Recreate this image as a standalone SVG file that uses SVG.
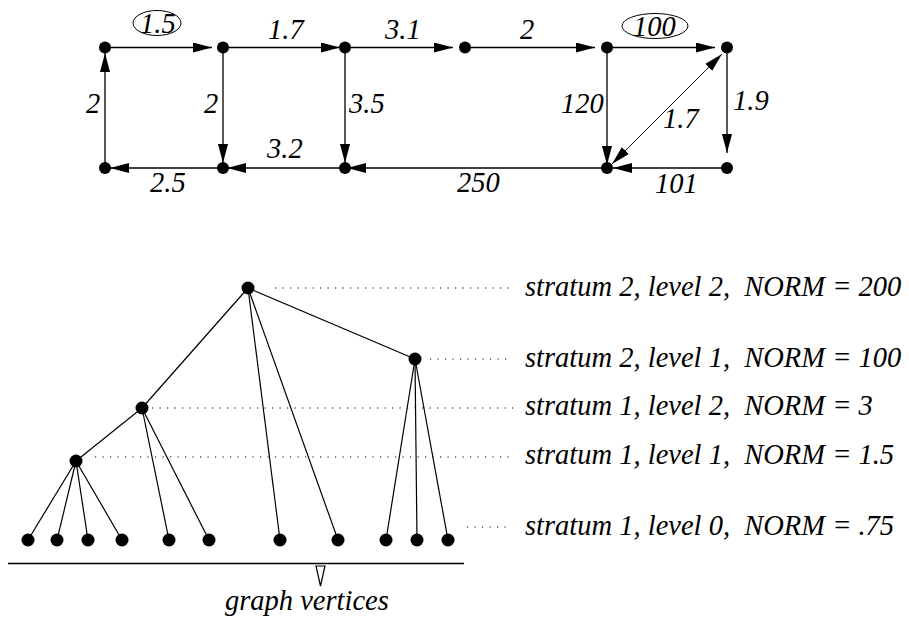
<svg xmlns="http://www.w3.org/2000/svg" width="909" height="621" viewBox="0 0 909 621">
<defs>
<marker id="ah" markerUnits="userSpaceOnUse" markerWidth="20" markerHeight="11" refX="19" refY="5" orient="auto">
<path d="M0,0 L19,5 L0,10 Z" fill="#000"/>
</marker>
<marker id="ahs" markerUnits="userSpaceOnUse" markerWidth="20" markerHeight="11" refX="19" refY="5" orient="auto-start-reverse">
<path d="M0,0 L19,5 L0,10 Z" fill="#000"/>
</marker>
</defs>
<style>
.e{stroke:#000;stroke-width:1.3;fill:none}
.a{marker-end:url(#ah)}
.t{stroke:#000;stroke-width:1.2;fill:none}
.d{stroke:#000;stroke-width:1.2;stroke-dasharray:1.2,6.3;fill:none}
.n{fill:#000}
.lb{font-family:"Liberation Serif","Times New Roman",serif;font-style:italic;font-size:28.5px;fill:#000;white-space:pre}
.ov{fill:none;stroke:#000;stroke-width:1}
</style>
<rect width="909" height="621" fill="#fff"/>

<g id="connectors">
<line class="e a" x1="105" y1="47.5" x2="212" y2="47.5"/>
<line class="e a" x1="223" y1="47.5" x2="340" y2="47.5"/>
<line class="e a" x1="345" y1="47.5" x2="453" y2="47.5"/>
<line class="e a" x1="465" y1="47.5" x2="595" y2="47.5"/>
<line class="e a" x1="607" y1="47.5" x2="715" y2="47.5"/>
<line class="e a" x1="727" y1="47.5" x2="727" y2="153"/>
<line class="e a" x1="727" y1="168" x2="613" y2="168"/>
<line class="e a" x1="607" y1="47.5" x2="607" y2="165"/>
<line stroke="#000" stroke-width="0.9" marker-start="url(#ahs)" marker-end="url(#ah)" x1="612" y1="164" x2="722" y2="54"/>
<line class="e a" x1="607" y1="168" x2="347" y2="168"/>
<line class="e a" x1="345" y1="47.5" x2="345" y2="163"/>
<line class="e a" x1="345" y1="168" x2="227" y2="168"/>
<line class="e a" x1="223" y1="47.5" x2="223" y2="163"/>
<line class="e a" x1="223" y1="168" x2="110" y2="168"/>
<line class="e a" x1="105" y1="168" x2="105" y2="53"/>

<g id="tree-edges">
<line class="t" x1="248" y1="288" x2="415" y2="359"/>
<line class="t" x1="248" y1="288" x2="142" y2="408"/>
<line class="t" x1="248" y1="288" x2="280" y2="540"/>
<line class="t" x1="248" y1="288" x2="338" y2="540"/>
<line class="t" x1="415" y1="359" x2="386" y2="540"/>
<line class="t" x1="415" y1="359" x2="417" y2="540"/>
<line class="t" x1="415" y1="359" x2="448" y2="540"/>
<line class="t" x1="142" y1="408" x2="76" y2="461"/>
<line class="t" x1="142" y1="408" x2="169" y2="540"/>
<line class="t" x1="142" y1="408" x2="209" y2="540"/>
<line class="t" x1="76" y1="461" x2="28" y2="540"/>
<line class="t" x1="76" y1="461" x2="57" y2="540"/>
<line class="t" x1="76" y1="461" x2="88" y2="540"/>
<line class="t" x1="76" y1="461" x2="122" y2="540"/>
</g>
<g id="level-guides">
<line class="d" x1="275" y1="288" x2="510" y2="288"/>
<line class="d" x1="430" y1="359" x2="510" y2="359"/>
<line class="d" x1="152" y1="408" x2="514" y2="408"/>
<line class="d" x1="95" y1="457" x2="511" y2="457"/>
<line class="d" x1="467" y1="527" x2="510" y2="527"/>
</g>
</g>

<g id="edge-labels">
<ellipse class="ov" cx="157" cy="23" rx="24" ry="12.5"/>
<text class="lb" x="140" y="33">1.5</text>
<text class="lb" x="268" y="39">1.7</text>
<text class="lb" x="385" y="39">3.1</text>
<text class="lb" x="520" y="39">2</text>
<ellipse class="ov" cx="655" cy="26" rx="33" ry="12.5"/>
<text class="lb" x="633" y="36">100</text>
<text class="lb" x="86" y="113">2</text>
<text class="lb" x="204" y="113">2</text>
<text class="lb" x="349" y="113">3.5</text>
<text class="lb" x="561" y="113">120</text>
<text class="lb" x="733" y="110">1.9</text>
<text class="lb" x="663" y="128">1.7</text>
<text class="lb" x="267" y="158">3.2</text>
<text class="lb" x="150" y="192">2.5</text>
<text class="lb" x="457" y="192">250</text>
<text class="lb" x="655" y="193">101</text>
</g>

<g id="g-n1"><circle class="n" cx="105" cy="47.5" r="6"/></g>
<g id="g-n2"><circle class="n" cx="223" cy="47.5" r="6"/></g>
<g id="g-n3"><circle class="n" cx="345" cy="47.5" r="6"/></g>
<g id="g-n4"><circle class="n" cx="465" cy="47.5" r="6"/></g>
<g id="g-n5"><circle class="n" cx="607" cy="47.5" r="6"/></g>
<g id="g-n6"><circle class="n" cx="727" cy="47.5" r="6"/></g>
<g id="g-n7"><circle class="n" cx="105" cy="168" r="6"/></g>
<g id="g-n8"><circle class="n" cx="223" cy="168" r="6"/></g>
<g id="g-n9"><circle class="n" cx="345" cy="168" r="6"/></g>
<g id="g-n10"><circle class="n" cx="607" cy="168" r="6"/></g>
<g id="g-n11"><circle class="n" cx="727" cy="168" r="6"/></g>

<g id="t-root"><circle class="n" cx="248" cy="288" r="6.5"/></g>
<g id="t-s2l1"><circle class="n" cx="415" cy="359" r="6.5"/></g>
<g id="t-s1l2"><circle class="n" cx="142" cy="408" r="6.5"/></g>
<g id="t-s1l1"><circle class="n" cx="76" cy="461" r="6.5"/></g>
<g id="t-leaves">
<circle class="n" cx="28" cy="540" r="6.5"/>
<circle class="n" cx="57" cy="540" r="6.5"/>
<circle class="n" cx="88" cy="540" r="6.5"/>
<circle class="n" cx="122" cy="540" r="6.5"/>
<circle class="n" cx="169" cy="540" r="6.5"/>
<circle class="n" cx="209" cy="540" r="6.5"/>
<circle class="n" cx="280" cy="540" r="6.5"/>
<circle class="n" cx="338" cy="540" r="6.5"/>
<circle class="n" cx="386" cy="540" r="6.5"/>
<circle class="n" cx="417" cy="540" r="6.5"/>
<circle class="n" cx="448" cy="540" r="6.5"/>
</g>

<g id="level-labels">
<text class="lb" x="525" y="296">stratum 2, level 2,  NORM = 200</text>
<text class="lb" x="525" y="367">stratum 2, level 1,  NORM = 100</text>
<text class="lb" x="525" y="415">stratum 1, level 2,  NORM = 3</text>
<text class="lb" x="525" y="464">stratum 1, level 1,  NORM = 1.5</text>
<text class="lb" x="525" y="535">stratum 1, level 0,  NORM = .75</text>
</g>

<g id="graph-vertices">
<line stroke="#000" stroke-width="1.3" x1="8" y1="563.5" x2="464" y2="563.5"/>
<path d="M316,566 L325,566 L320.5,586 Z" fill="#fff" stroke="#000" stroke-width="1.2"/>
<text class="lb" x="225" y="610">graph vertices</text>
</g>
</svg>
